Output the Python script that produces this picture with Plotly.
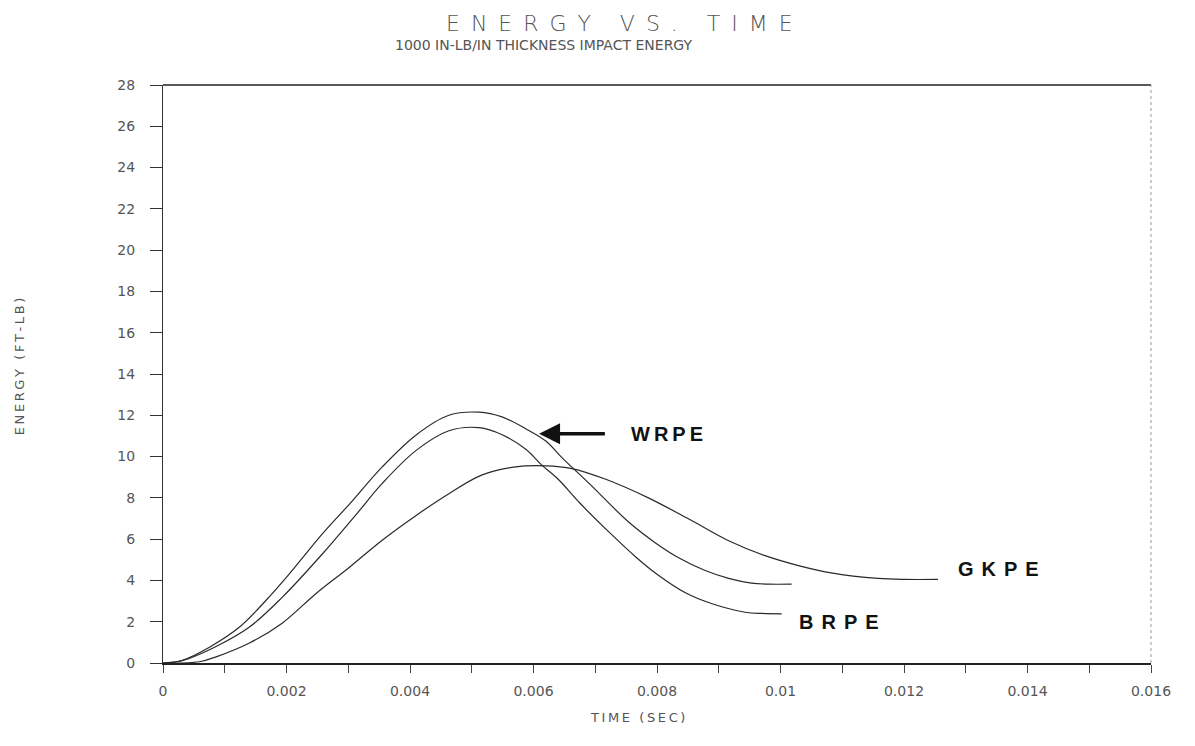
import plotly.graph_objects as go

# ---- data ----
wrpe_t = [0, 0.0003, 0.00076, 0.00124, 0.00167, 0.00205, 0.00258, 0.00302, 0.00355, 0.0041,
          0.00463, 0.00512, 0.00549, 0.00588, 0.0062, 0.00646, 0.0069, 0.00754, 0.00797,
          0.00835, 0.00878, 0.00916, 0.00953, 0.0098, 0.01018]
wrpe_e = [0, 0.12, 0.78, 1.74, 3.04, 4.33, 6.25, 7.7, 9.5, 11.05,
          12.0, 12.15, 11.92, 11.34, 10.75, 9.95, 8.7, 6.83, 5.83,
          5.1, 4.48, 4.1, 3.87, 3.82, 3.82]

brpe_t = [0, 0.0003, 0.00086, 0.0014, 0.00193, 0.00258, 0.00313, 0.00355, 0.0041, 0.00463,
          0.00512, 0.00549, 0.00588, 0.00613, 0.0064, 0.00675, 0.00722, 0.00767, 0.008,
          0.00846, 0.00888, 0.00943, 0.0097, 0.01002]
brpe_e = [0, 0.1, 0.8, 1.74, 3.18, 5.28, 7.2, 8.7, 10.3, 11.25,
          11.4, 11.06, 10.34, 9.6, 8.9, 7.75, 6.35, 5.1, 4.3,
          3.4, 2.88, 2.46, 2.4, 2.38]

gkpe_t = [0, 0.00059, 0.00086, 0.0014, 0.00193, 0.00248, 0.00302, 0.00355, 0.0041, 0.00463,
          0.00516, 0.00571, 0.0062, 0.00662, 0.00717, 0.00786, 0.00856, 0.00916, 0.00975,
          0.01029, 0.01082, 0.01158, 0.012, 0.01255]
gkpe_e = [0, 0.06, 0.3, 0.97, 1.93, 3.37, 4.64, 5.95, 7.15, 8.2,
          9.1, 9.5, 9.55, 9.42, 8.9, 8.0, 6.9, 5.92, 5.2,
          4.72, 4.37, 4.1, 4.05, 4.05]

x_tickvals = [0, 0.002, 0.004, 0.006, 0.008, 0.01, 0.012, 0.014, 0.016]
x_ticktext = ["0", "0.002", "0.004", "0.006", "0.008", "0.01", "0.012", "0.014", "0.016"]
y_tickvals = list(range(0, 29, 2))

labels = {"WRPE": (0.00754, 11.1), "GKPE": (0.01284, 4.53), "BRPE": (0.01027, 1.98)}
arrow_tip = (0.00609, 11.1)
arrow_tail = (0.00718, 11.1)

title = "ENERGY VS. TIME"
subtitle = "1000 IN-LB/IN THICKNESS IMPACT ENERGY"
x_title = "TIME (SEC)"
y_title = "ENERGY (FT-LB)"

def spaced(s, sp="\u2009"):
    return sp.join(list(s))

line_style = dict(color="#2a2a2a", width=1.2, shape="spline", smoothing=1.0)

fig = go.Figure()
for t, e, name in [(wrpe_t, wrpe_e, "WRPE"), (brpe_t, brpe_e, "BRPE"), (gkpe_t, gkpe_e, "GKPE")]:
    fig.add_trace(go.Scatter(x=t, y=e, mode="lines", name=name, line=line_style,
                             showlegend=False, hoverinfo="x+y+name"))

tickfont = dict(family="DejaVu Sans", size=14, color="#555")

fig.update_layout(
    width=1175, height=725,
    margin=dict(l=155, r=30, t=77, b=70),
    plot_bgcolor="white", paper_bgcolor="white",
    xaxis=dict(range=[0, 0.016], showgrid=False, zeroline=False,
               showline=True, linecolor="#222", linewidth=1.5,
               tickvals=x_tickvals, ticktext=x_ticktext,
               ticks="outside", ticklen=8, tickwidth=1, tickcolor="#444",
               minor=dict(dtick=0.001, ticks="outside", ticklen=8, tickwidth=1, tickcolor="#444"),
               tickfont=tickfont, ticklabelstandoff=6),
    yaxis=dict(range=[0, 28], showgrid=False, zeroline=False,
               showline=True, linecolor="#333", linewidth=1,
               tickvals=y_tickvals,
               ticks="outside", ticklen=12, tickwidth=1, tickcolor="#333",
               tickfont=tickfont, ticklabelstandoff=12),
)

# frame: solid top, faint dotted right
fig.add_shape(type="line", xref="paper", yref="paper", x0=0, x1=1, y0=1, y1=1,
              line=dict(color="#222", width=1.5))
fig.add_shape(type="line", xref="paper", yref="paper", x0=1, x1=1, y0=0, y1=1,
              line=dict(color="#999", width=1, dash="dot"))

# curve labels
label_sp = {"WRPE": "\u2009", "GKPE": "\u2009\u2009", "BRPE": "\u2009\u2009"}
for name, (lx, ly) in labels.items():
    fig.add_annotation(x=lx, y=ly, xref="x", yref="y", text=spaced(name, label_sp[name]),
                       showarrow=False, xanchor="left", yanchor="middle",
                       font=dict(family="Liberation Sans", size=20, color="#111", weight="bold"))

# arrow for WRPE
fig.add_annotation(x=arrow_tip[0], y=arrow_tip[1], ax=arrow_tail[0], ay=arrow_tail[1],
                   xref="x", yref="y", axref="x", ayref="y", text="",
                   showarrow=True, arrowhead=2, arrowsize=1.2, arrowwidth=3.5, arrowcolor="#111")

# titles
fig.add_annotation(xref="paper", yref="paper", x=0.4616, y=1.131,
                   text=spaced(title, "\u2009\u2009\u200a"),
                   showarrow=False, xanchor="center", yanchor="top",
                   font=dict(family="DejaVu Sans", size=22, color="#555", weight=200))
fig.add_annotation(xref="paper", yref="paper", x=0.386, y=1.07, text=subtitle,
                   showarrow=False, xanchor="center", yanchor="middle",
                   font=dict(family="DejaVu Sans", size=14, color="#555"))
fig.add_annotation(xref="paper", yref="paper", x=0.48, y=-0.095, text=spaced(x_title),
                   showarrow=False, xanchor="center", yanchor="middle",
                   font=dict(family="DejaVu Sans", size=13, color="#555"))
fig.add_annotation(xref="paper", yref="paper", x=-0.1444, y=0.514, text=spaced(y_title),
                   showarrow=False, xanchor="center", yanchor="middle", textangle=-90,
                   font=dict(family="DejaVu Sans", size=13, color="#555"))

fig.write_html("out.html")
